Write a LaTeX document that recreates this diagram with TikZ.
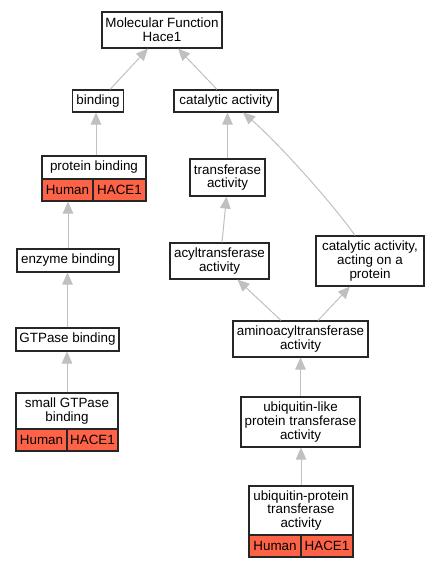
\documentclass[tikz,border=0pt]{standalone}
\usepackage{fontspec}
\setmainfont{Liberation Sans}
\usetikzlibrary{arrows.meta}
\definecolor{edgegray}{HTML}{C0C0C0}
\definecolor{hitred}{HTML}{FF6347}
\tikzset{
  box/.style={draw=black!85, line width=1.1pt, fill=white, inner sep=0pt, align=center,
    font=\fontsize{13.4}{13.6}\selectfont},
  cell/.style={box, fill=hitred},
  link/.style={draw=edgegray, line width=1pt, -{Triangle[length=12pt,width=10.5pt]}},
}
\begin{document}
\begin{tikzpicture}[x=1pt,y=-1pt]
\useasboundingbox (0,0) rectangle (439,568);
% nodes
\node[box, minimum width=120pt, minimum height=36pt] (mf) at (162,30) {Molecular Function\\Hace1};
\node[box, minimum width=51pt, minimum height=22pt] (bind) at (98,101) {binding};
\node[box, minimum width=104pt, minimum height=22pt] (cat) at (226,101) {catalytic activity};
\node[box, minimum width=104pt, minimum height=23pt] (pb) at (94,167.5) {protein binding};
\node[cell, minimum width=51pt, minimum height=22pt] (pbH) at (67.5,190) {Human};
\node[cell, minimum width=53pt, minimum height=22pt] (pbC) at (119.5,190) {HACE1};
\node[box, minimum width=75pt, minimum height=37pt] (tr) at (227.5,177.5) {transferase\\activity};
\node[box, minimum width=102pt, minimum height=23pt] (eb) at (68,260.5) {enzyme binding};
\node[box, minimum width=99pt, minimum height=36pt] (acyl) at (219.5,261) {acyltransferase\\activity};
\node[box, minimum width=108pt, minimum height=50pt] (cap) at (370,261) {catalytic activity,\\acting on a\\protein};
\node[box, minimum width=103pt, minimum height=23pt] (gtp) at (67.5,339.5) {GTPase binding};
\node[box, minimum width=135pt, minimum height=36pt] (amino) at (300.5,339) {aminoacyltransferase\\activity};
\node[box, minimum width=102pt, minimum height=36pt] (sg) at (67,411) {small GTPase\\binding};
\node[cell, minimum width=51pt, minimum height=22pt] (sgH) at (41.5,440) {Human};
\node[cell, minimum width=51pt, minimum height=22pt] (sgC) at (92.5,440) {HACE1};
\node[box, minimum width=119pt, minimum height=50pt] (ul) at (300.5,422) {ubiquitin-like\\protein transferase\\activity};
\node[box, minimum width=104pt, minimum height=49pt] (up) at (301,510.5) {ubiquitin-protein\\transferase\\activity};
\node[cell, minimum width=52pt, minimum height=22pt] (upH) at (275,546) {Human};
\node[cell, minimum width=52pt, minimum height=22pt] (upC) at (327,546) {HACE1};
% edges
\draw[link] ([xshift=12pt]bind.north) -- ([xshift=-14pt]mf.south);
\draw[link] ([xshift=-9pt]cat.north) -- ([xshift=16pt]mf.south);
\draw[link] ([xshift=2pt]pb.north) -- ([xshift=-2pt]bind.south);
\draw[link] (tr.north) -- (tr.north |- cat.south);
\draw[link] ([xshift=-15pt]cap.north) .. controls (330,200) and (275,140) .. ([xshift=17pt]cat.south);
\draw[link] ([xshift=2.5pt]acyl.north) -- ([xshift=-1pt]tr.south);
\draw[link] (eb.north) -- (eb.north |- pbH.south);
\draw[link] (gtp.north) -- (gtp.north |- eb.south);
\draw[link] (sg.north) -- (sg.north |- gtp.south);
\draw[link] ([xshift=-19.5pt]amino.north) -- ([xshift=18pt]acyl.south);
\draw[link] ([xshift=17.5pt]amino.north) -- ([xshift=-20pt]cap.south);
\draw[link] (ul.north) -- (amino.south);
\draw[link] (up.north) -- (up.north |- ul.south);
\end{tikzpicture}
\end{document}
